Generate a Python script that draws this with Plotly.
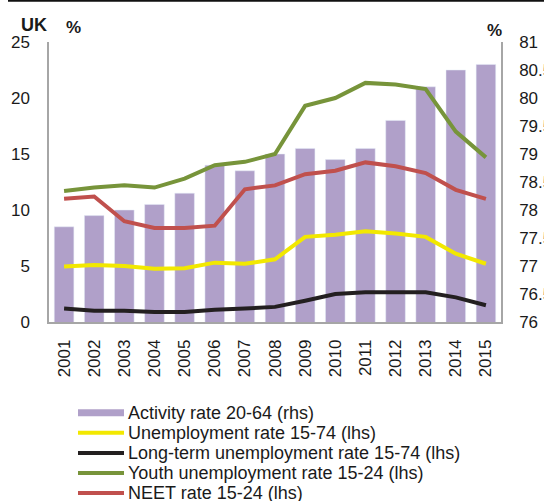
import plotly.graph_objects as go

years = [str(y) for y in range(2001, 2016)]

activity_rate = [77.7, 77.9, 78.0, 78.1, 78.3, 78.8, 78.7, 79.0, 79.1, 78.9, 79.1, 79.6, 80.2, 80.5, 80.6]
unemployment = [4.95, 5.1, 5.0, 4.75, 4.8, 5.3, 5.2, 5.6, 7.6, 7.8, 8.1, 7.9, 7.6, 6.1, 5.2]
long_term = [1.2, 1.0, 1.0, 0.9, 0.9, 1.1, 1.2, 1.35, 1.9, 2.5, 2.65, 2.65, 2.65, 2.2, 1.5]
youth = [11.7, 12.0, 12.2, 12.0, 12.8, 14.0, 14.3, 15.0, 19.3, 20.0, 21.35, 21.2, 20.8, 17.0, 14.7]
neet = [11.0, 11.2, 9.0, 8.4, 8.4, 8.6, 11.85, 12.2, 13.2, 13.5, 14.25, 13.9, 13.3, 11.8, 11.0]

left_ticks = [0, 5, 10, 15, 20, 25]
right_ticks = [76, 76.5, 77, 77.5, 78, 78.5, 79, 79.5, 80, 80.5, 81]

PURPLE = "#B0A0C9"
YELLOW = "#F2E800"
BLACK = "#231F20"
GREEN = "#77943A"
RED = "#C0504D"
FONT = "Liberation Sans, Arial, sans-serif"
TXT = "#1a1a1a"

series = [
    (activity_rate, PURPLE, "Activity rate 20-64 (rhs)"),
    (unemployment, YELLOW, "Unemployment rate 15-74 (lhs)"),
    (long_term, BLACK, "Long-term unemployment rate 15-74 (lhs)"),
    (youth, GREEN, "Youth unemployment rate 15-24 (lhs)"),
    (neet, RED, "NEET rate 15-24 (lhs)"),
]

fig = go.Figure()

# Bars sit on the base (right-hand) axis so the lines overlay them
fig.add_trace(go.Bar(x=years, y=activity_rate, yaxis="y", marker_color=PURPLE,
                     width=0.65, name=series[0][2], hoverinfo="x+y"))

for vals, col, name in series[1:]:
    fig.add_trace(go.Scatter(x=years, y=vals, mode="lines", name=name, yaxis="y2",
                             line=dict(color=col, width=4)))

W, H = 544, 501
L, R, T, B = 49, 43, 42, 179
pw, ph = W - L - R, H - T - B


def px(x):
    return (x - L) / pw


def py(y):
    return (T + ph - y) / ph


fig.update_layout(
    width=W, height=H,
    margin=dict(l=L, r=R, t=T, b=B, autoexpand=False),
    paper_bgcolor="white", plot_bgcolor="white",
    font=dict(family=FONT, size=17, color=TXT),
    showlegend=False,
    xaxis=dict(type="category", tickangle=-90, showgrid=False,
               showline=True, linecolor="#a6a6a6", linewidth=1.5,
               ticks="outside", ticklen=9, tickcolor="rgba(0,0,0,0)",
               tickfont=dict(size=17), range=[-0.5, 14.5]),
    yaxis=dict(range=[76, 81], tickvals=right_ticks, side="right",
               showgrid=False, zeroline=False,
               showline=True, linecolor="#a6a6a6", linewidth=1.5,
               ticks="outside", ticklen=13, tickcolor="rgba(0,0,0,0)",
               tickfont=dict(size=17)),
    yaxis2=dict(range=[0, 25], tickvals=left_ticks, overlaying="y", side="left",
                showgrid=False, zeroline=False,
                showline=True, linecolor="#a6a6a6", linewidth=1.5,
                ticks="outside", ticklen=14, tickcolor="rgba(0,0,0,0)",
                tickfont=dict(size=17)),
)

# Legend: swatch + label per series, stacked below the axis labels
row_y = [412.7, 432.7, 453.0, 473.0, 493.0]
for (vals, col, name), yy in zip(series, row_y):
    is_bar = col == PURPLE
    fig.add_shape(type="line", xref="paper", yref="paper",
                  x0=px(78), x1=px(124), y0=py(yy), y1=py(yy),
                  line=dict(color=col, width=7 if is_bar else 4))
    fig.add_annotation(text=name, xref="paper", yref="paper",
                       x=px(126), y=py(yy), xanchor="left", yanchor="middle",
                       showarrow=False, font=dict(size=18, color=TXT))

fig.add_annotation(text="<b>UK</b>", xref="paper", yref="paper",
                   x=px(19), y=py(25.5), xanchor="left", yanchor="middle",
                   showarrow=False, font=dict(size=18, color=TXT))
fig.add_annotation(text="<b>%</b>", xref="paper", yref="paper",
                   x=px(64), y=py(28), xanchor="left", yanchor="middle",
                   showarrow=False, font=dict(size=17, color=TXT))
fig.add_annotation(text="<b>%</b>", xref="paper", yref="paper",
                   x=px(485), y=py(31), xanchor="left", yanchor="middle",
                   showarrow=False, font=dict(size=17, color=TXT))

# Rule across the top of the panel
fig.add_shape(type="line", xref="paper", yref="paper",
              x0=px(8), x1=px(W), y0=py(0.8), y1=py(0.8),
              line=dict(color="#111111", width=2))

fig.write_html("out.html")
